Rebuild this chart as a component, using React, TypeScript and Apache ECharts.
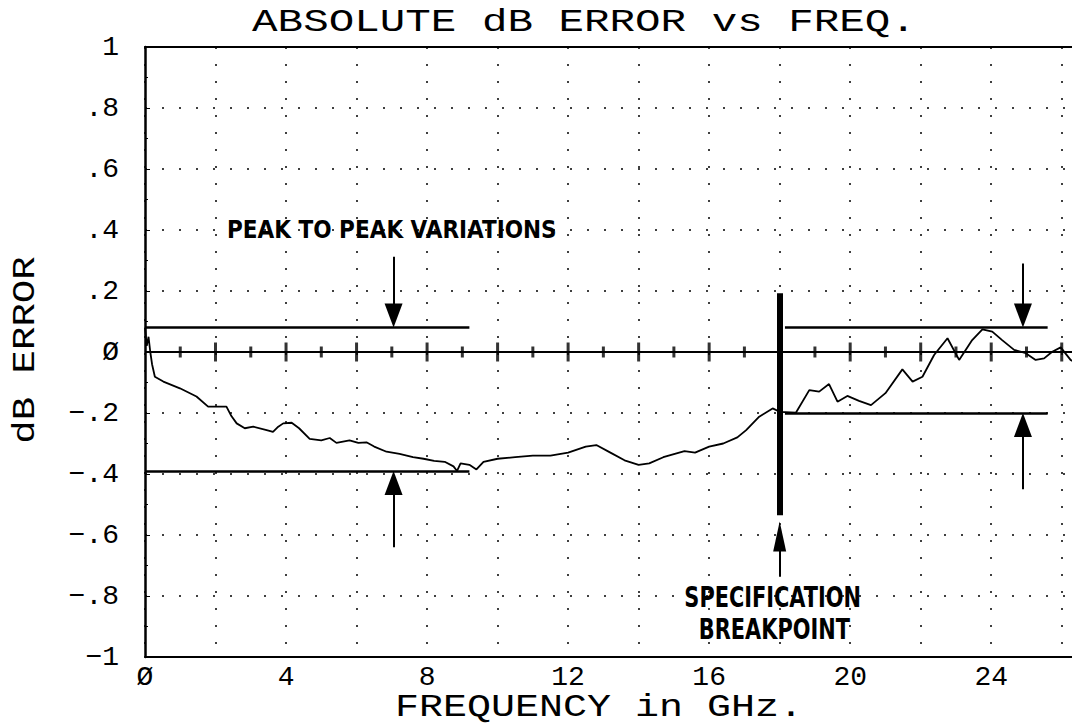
import React, { useEffect, useRef } from "react";
import * as echarts from "echarts";

// ---- data ----
const freqGHz = [
  0, 0.05, 0.1, 0.15, 0.2, 0.28, 0.52, 0.99, 1.46, 1.79, 2.31, 2.45, 2.6, 2.83, 3.07, 3.45, 3.63, 3.78, 3.92,
  4.16, 4.37, 4.67, 5.0, 5.24, 5.43, 5.8, 6.05, 6.28, 6.5, 6.85, 7.22, 7.6, 7.9, 8.2, 8.5, 8.75, 8.85, 8.95,
  9.2, 9.4, 9.6, 10.0, 10.5, 11.0, 11.5, 12.0, 12.5, 12.8, 13.2, 13.6, 14.0, 14.3, 14.7, 15.0, 15.3, 15.6,
  16.0, 16.4, 16.8, 17.05, 17.42, 17.8, 18.0, 18.46, 18.84, 19.12, 19.4, 19.64, 19.92, 20.25, 20.59, 21.0,
  21.48, 21.77, 22.05, 22.38, 22.76, 23.09, 23.46, 23.75, 24.03, 24.31, 24.65, 24.98, 25.26, 25.5, 25.73,
  25.97, 26.25, 26.5,
];
const dbError = [
  0.08, 0.02, 0.05, 0.0, -0.04, -0.081, -0.097, -0.119, -0.146, -0.179, -0.179, -0.21, -0.234, -0.25, -0.245,
  -0.256, -0.262, -0.245, -0.234, -0.232, -0.25, -0.285, -0.29, -0.282, -0.298, -0.29, -0.298, -0.296, -0.31,
  -0.327, -0.334, -0.345, -0.35, -0.357, -0.36, -0.375, -0.39, -0.365, -0.37, -0.385, -0.36, -0.35, -0.345,
  -0.34, -0.34, -0.33, -0.31, -0.305, -0.33, -0.355, -0.37, -0.365, -0.345, -0.335, -0.325, -0.33, -0.31,
  -0.3, -0.28, -0.256, -0.212, -0.185, -0.196, -0.199, -0.125, -0.13, -0.105, -0.163, -0.144, -0.16, -0.174,
  -0.135, -0.057, -0.097, -0.081, -0.01, 0.045, -0.026, 0.039, 0.074, 0.067, 0.039, 0.007, -0.004, -0.026,
  -0.021, 0.001, 0.015, -0.026, -0.04,
];

const yTickValues = [-1, -0.8, -0.6, -0.4, -0.2, 0, 0.2, 0.4, 0.6, 0.8, 1];
const yTickLabels = ["−1", "−.8", "−.6", "−.4", "−.2", "Ø", ".2", ".4", ".6", ".8", "1"];
const xTickValues = [0, 4, 8, 12, 16, 20, 24];
const xTickLabels = ["Ø", "4", "8", "12", "16", "20", "24"];
const zeroLineTicks = [1, 2, 3, 4, 5, 6, 7, 8, 9, 10, 11, 12, 13, 14, 15, 16, 17, 18, 19, 20, 21, 22, 23, 24, 25, 26];

// peak-to-peak limits
const lowBandEnd = 9.2;
const highBandStart = 18.15;
const highBandEnd = 25.6;
const lowBandMax = 0.08;
const lowBandMin = -0.39;
const highBandMax = 0.08;
const highBandMin = -0.2;
const breakpointGHz = 18;
const breakpointBar = [0.193, -0.535];
const arrowLowX = 7.05;
const arrowHighX = 24.9;

// annotation texts with their anchor (GHz, dB)
const notes = [
  { text: "PEAK TO PEAK VARIATIONS", at: [7.0, 0.403], size: 25, scaleX: 0.96 },
  { text: "SPECIFICATION", at: [17.8, -0.803], size: 29, scaleX: 0.8 },
  { text: "BREAKPOINT", at: [17.85, -0.908], size: 29, scaleX: 0.8 },
];

const TITLE = "ABSOLUTE dB ERROR vs FREQ.";
const X_NAME = "FREQUENCY in GHz.";
const Y_NAME = "dB ERROR";

const MONO = '"Liberation Mono", "DejaVu Sans Mono", monospace';
const NARROW = '"DejaVu Sans Condensed", "Liberation Sans Narrow", sans-serif';

const PX_PER_UNIT = 305; // plot height 610 px for 2 dB

function lookup(values: number[], labels: string[], v: number) {
  for (let i = 0; i < values.length; i++) if (Math.abs(values[i] - v) < 1e-6) return labels[i];
  return "";
}

export default function App() {
  const ref = useRef<HTMLDivElement>(null);
  useEffect(() => {
    if (!ref.current) return;
    const chart = echarts.init(ref.current, undefined, { renderer: "svg" });
    // arrow whose triangle tip ends exactly on `tip`
    const arrow = (x: number, from: number, tip: number, w = 18, h = 24) => {
      const dir = tip > from ? 1 : -1;
      const end = tip - (dir * h) / 2 / PX_PER_UNIT;
      return [
        { coord: [x, from], symbol: "none" },
        { coord: [x, end], symbol: "triangle", symbolSize: [w, h] },
      ];
    };
    chart.setOption({
      animation: false,
      backgroundColor: "#fff",
      grid: { left: 145, right: 2, top: 47, bottom: 71 },
      xAxis: [
        {
          type: "value",
          min: 0,
          max: 27,
          interval: 2,
          position: "bottom",
          axisLine: { onZero: false, lineStyle: { color: "#000", width: 2 } },
          axisTick: { show: false },
          axisLabel: {
            formatter: (v: number) => lookup(xTickValues, xTickLabels, v),
            fontFamily: MONO,
            fontSize: 28,
            color: "#000",
            margin: 6,
          },
          splitLine: { show: true, lineStyle: { type: [2, 15], color: "#000", width: 1.5 } },
        },
        {
          type: "value",
          min: 0,
          max: 27,
          position: "top",
          axisLine: { show: true, onZero: false, lineStyle: { color: "#000", width: 2.2 } },
          axisTick: { show: false },
          axisLabel: { show: false },
          splitLine: { show: false },
        },
      ],
      yAxis: {
        type: "value",
        min: -1,
        max: 1,
        interval: 0.2,
        axisLine: { show: true, onZero: false, lineStyle: { color: "#000", width: 2.5 } },
        axisTick: { show: true, inside: true, length: 5, lineStyle: { color: "#000" } },
        minorTick: { show: true, splitNumber: 2, length: 3, lineStyle: { color: "#000" } },
        axisLabel: {
          formatter: (v: number) => lookup(yTickValues, yTickLabels, Math.round(v * 10) / 10),
          fontFamily: MONO,
          fontSize: 28,
          color: "#000",
          margin: 26,
        },
        splitLine: { show: true, lineStyle: { type: [2, 15], color: "#000", width: 1.5 } },
      },
      series: [
        {
          name: "dB error",
          type: "line",
          data: freqGHz.map((f, i) => [f, dbError[i]]),
          showSymbol: false,
          lineStyle: { color: "#000", width: 1.8 },
          silent: true,
          z: 5,
        },
        {
          name: "zero line",
          type: "line",
          data: [],
          silent: true,
          markLine: {
            silent: true,
            symbol: "none",
            label: { show: false },
            lineStyle: { color: "#000", width: 2.2, type: "solid" },
            data: [{ yAxis: 0 }],
          },
        },
        {
          name: "zero ticks",
          type: "scatter",
          silent: true,
          symbol: "rect",
          symbolSize: (val: number[]) => (val[0] % 2 === 0 ? [3, 19] : [3, 11]),
          itemStyle: { color: "#000" },
          data: zeroLineTicks.map((t) => [t, 0]),
        },
        {
          name: "limits",
          type: "line",
          data: [],
          silent: true,
          markLine: {
            silent: true,
            symbol: "none",
            label: { show: false },
            lineStyle: { color: "#000", width: 2.6, type: "solid" },
            data: [
              [{ coord: [0, lowBandMax] }, { coord: [lowBandEnd, lowBandMax] }],
              [{ coord: [0, lowBandMin] }, { coord: [lowBandEnd, lowBandMin] }],
              [{ coord: [highBandStart, highBandMax] }, { coord: [highBandEnd, highBandMax] }],
              [{ coord: [highBandStart, highBandMin] }, { coord: [highBandEnd, highBandMin] }],
            ],
          },
        },
        {
          name: "breakpoint",
          type: "line",
          data: [],
          silent: true,
          markLine: {
            silent: true,
            symbol: "none",
            label: { show: false },
            lineStyle: { color: "#000", width: 6, type: "solid" },
            data: [[{ coord: [breakpointGHz, breakpointBar[0]] }, { coord: [breakpointGHz, breakpointBar[1]] }]],
          },
        },
        {
          name: "arrows",
          type: "line",
          data: [],
          silent: true,
          markLine: {
            silent: true,
            label: { show: false },
            lineStyle: { color: "#000", width: 2, type: "solid" },
            data: [
              arrow(arrowLowX, 0.312, lowBandMax),
              arrow(arrowLowX, -0.64, lowBandMin),
              arrow(arrowHighX, 0.29, highBandMax),
              arrow(arrowHighX, -0.45, highBandMin),
              arrow(breakpointGHz, -0.737, -0.556, 13, 30),
            ],
          },
        },
      ],
    });

    const noteGraphics = notes.map((n) => {
      const p = chart.convertToPixel({ gridIndex: 0 }, n.at) as number[];
      return {
        type: "text",
        x: p[0],
        y: p[1],
        scaleX: n.scaleX,
        silent: true,
        style: {
          text: n.text,
          fontFamily: NARROW,
          fontWeight: "bold",
          fontSize: n.size,
          fill: "#000",
          align: "center",
          verticalAlign: "middle",
        },
      };
    });

    chart.setOption({
      graphic: [
        {
          type: "text",
          x: 584,
          y: 23,
          scaleX: 1.33,
          style: { text: TITLE, fontFamily: MONO, fontSize: 32, fill: "#000", align: "center", verticalAlign: "middle" },
        },
        {
          type: "text",
          x: 599,
          y: 708,
          scaleX: 1.29,
          style: { text: X_NAME, fontFamily: MONO, fontSize: 31, fill: "#000", align: "center", verticalAlign: "middle" },
        },
        {
          type: "text",
          x: 25,
          y: 350,
          rotation: Math.PI / 2,
          scaleX: 1.22,
          style: { text: Y_NAME, fontFamily: MONO, fontSize: 32, fill: "#000", align: "center", verticalAlign: "middle" },
        },
        ...noteGraphics,
      ],
    });
    return () => chart.dispose();
  }, []);
  return (
    <div style={{ position: "fixed", left: 0, top: 0, width: 1072, height: 728, overflow: "hidden", background: "#fff" }}>
      <div ref={ref} style={{ width: 1100, height: 728 }} />
    </div>
  );
}
